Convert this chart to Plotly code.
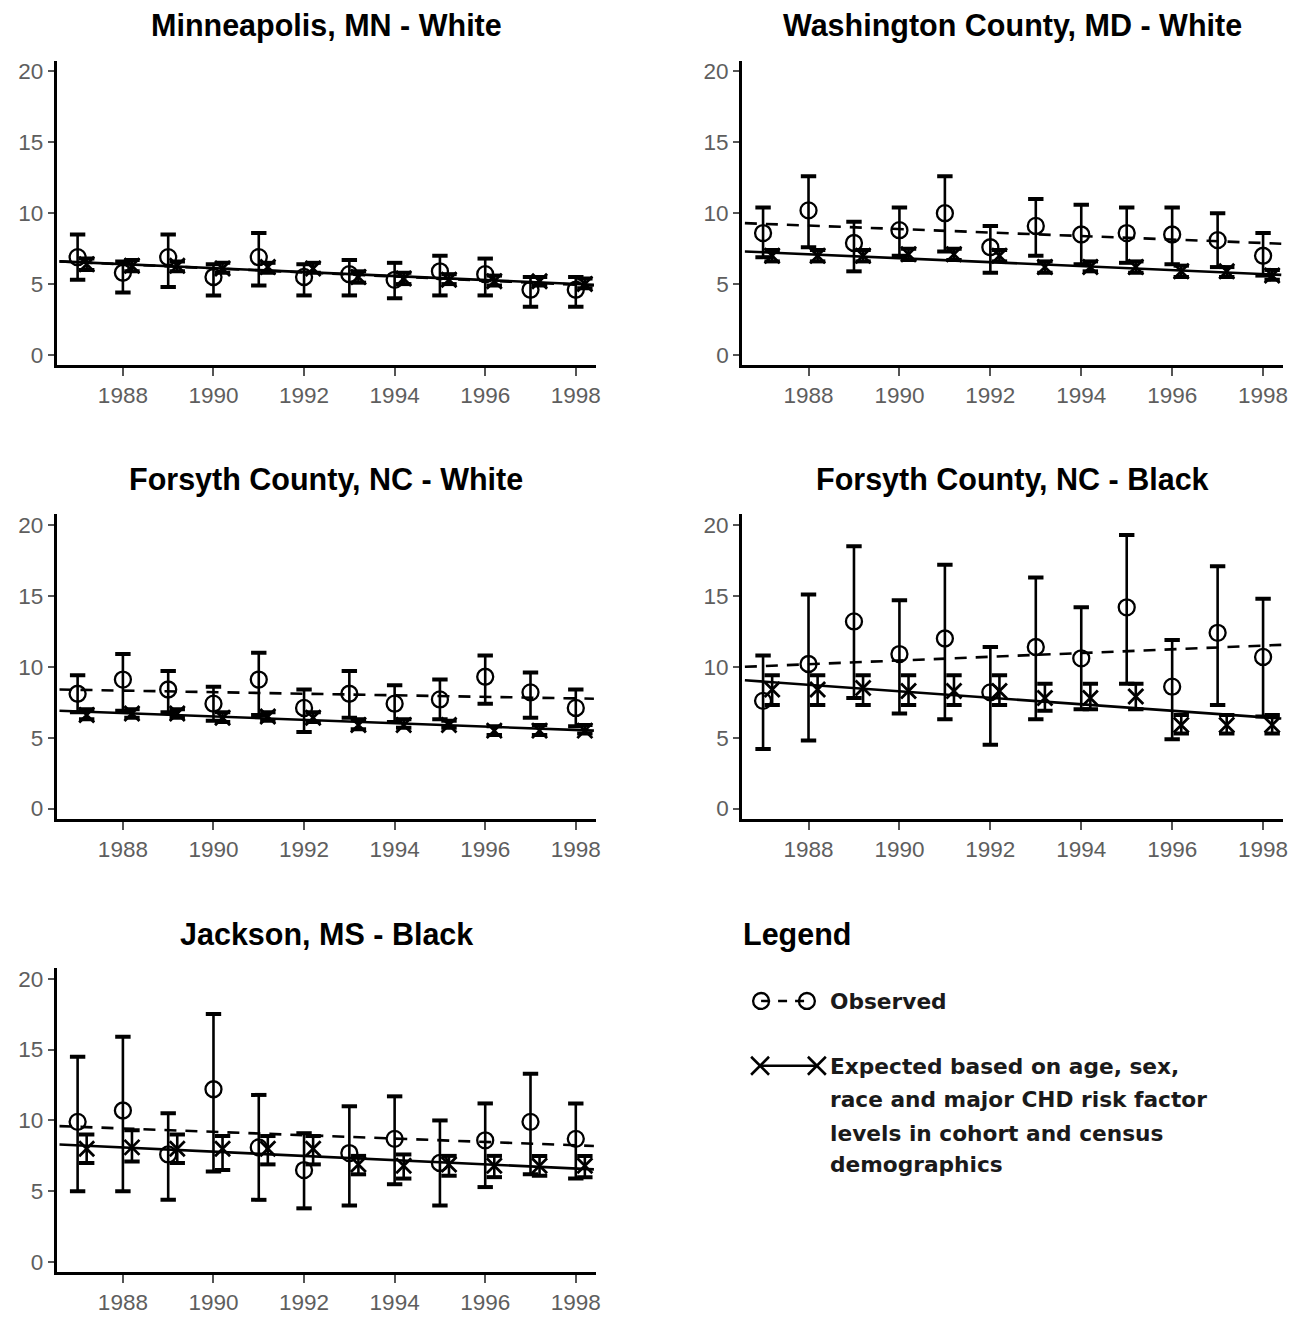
import numpy as np
import plotly.graph_objects as go

# ---------------------------------------------------------------------------
# Data: CHD rates by year, observed vs expected, five community/race groups
# ---------------------------------------------------------------------------
years = [1987, 1988, 1989, 1990, 1991, 1992, 1993, 1994, 1995, 1996, 1997, 1998]
tick_years = [1988, 1990, 1992, 1994, 1996, 1998]
tick_rates = [0, 5, 10, 15, 20]

titles = [
    "Minneapolis, MN - White",
    "Washington County, MD - White",
    "Forsyth County, NC - White",
    "Forsyth County, NC - Black",
    "Jackson, MS - Black",
]

# Minneapolis, MN - White
obs_mn = [6.9, 5.8, 6.9, 5.5, 6.9, 5.5, 5.7, 5.3, 5.9, 5.7, 4.6, 4.6]
obs_mn_hi = [8.5, 6.6, 8.5, 6.4, 8.6, 6.4, 6.7, 6.5, 7.0, 6.8, 5.5, 5.5]
obs_mn_lo = [5.3, 4.4, 4.8, 4.2, 4.9, 4.2, 4.2, 4.0, 4.2, 4.2, 3.4, 3.4]
exp_mn = [6.4, 6.3, 6.3, 6.1, 6.2, 6.1, 5.5, 5.4, 5.3, 5.2, 5.2, 5.0]
exp_mn_hi = [6.8, 6.7, 6.6, 6.5, 6.5, 6.5, 5.9, 5.8, 5.7, 5.6, 5.5, 5.4]
exp_mn_lo = [6.0, 5.9, 5.9, 5.8, 5.8, 5.8, 5.1, 5.0, 5.0, 4.9, 4.9, 4.7]

# Washington County, MD - White
obs_wa = [8.6, 10.2, 7.9, 8.8, 10.0, 7.6, 9.1, 8.5, 8.6, 8.5, 8.1, 7.0]
obs_wa_hi = [10.4, 12.6, 9.4, 10.4, 12.6, 9.1, 11.0, 10.6, 10.4, 10.4, 10.0, 8.6]
obs_wa_lo = [6.9, 7.6, 5.9, 7.0, 7.3, 5.8, 7.0, 6.4, 6.5, 6.4, 6.2, 5.6]
exp_wa = [7.0, 7.0, 7.0, 7.1, 7.1, 7.0, 6.2, 6.2, 6.2, 5.9, 5.9, 5.6]
exp_wa_hi = [7.4, 7.4, 7.4, 7.5, 7.5, 7.4, 6.6, 6.6, 6.6, 6.3, 6.2, 6.0]
exp_wa_lo = [6.6, 6.6, 6.6, 6.7, 6.7, 6.6, 5.8, 5.9, 5.8, 5.5, 5.5, 5.3]

# Forsyth County, NC - White
obs_fw = [8.1, 9.1, 8.4, 7.4, 9.1, 7.1, 8.1, 7.4, 7.7, 9.3, 8.2, 7.1]
obs_fw_hi = [9.4, 10.9, 9.7, 8.6, 11.0, 8.4, 9.7, 8.7, 9.1, 10.8, 9.6, 8.4]
obs_fw_lo = [6.8, 6.9, 6.8, 6.2, 6.6, 5.4, 6.4, 6.1, 6.3, 7.4, 6.4, 5.8]
exp_fw = [6.6, 6.7, 6.7, 6.4, 6.5, 6.4, 5.9, 5.9, 5.9, 5.5, 5.5, 5.5]
exp_fw_hi = [7.0, 7.0, 7.0, 6.8, 6.8, 6.8, 6.3, 6.3, 6.2, 5.8, 5.9, 5.9]
exp_fw_lo = [6.3, 6.4, 6.4, 6.1, 6.2, 6.1, 5.6, 5.7, 5.7, 5.2, 5.2, 5.3]

# Forsyth County, NC - Black
obs_fb = [7.6, 10.2, 13.2, 10.9, 12.0, 8.2, 11.4, 10.6, 14.2, 8.6, 12.4, 10.7]
obs_fb_hi = [10.8, 15.1, 18.5, 14.7, 17.2, 11.4, 16.3, 14.2, 19.3, 11.9, 17.1, 14.8]
obs_fb_lo = [4.2, 4.8, 7.8, 6.7, 6.3, 4.5, 6.3, 7.0, 8.8, 4.9, 7.3, 6.5]
exp_fb = [8.4, 8.4, 8.5, 8.3, 8.3, 8.3, 7.8, 7.8, 7.9, 5.9, 5.9, 5.9]
exp_fb_hi = [9.4, 9.4, 9.4, 9.4, 9.4, 9.4, 8.8, 8.8, 8.8, 6.6, 6.6, 6.6]
exp_fb_lo = [7.3, 7.3, 7.3, 7.3, 7.3, 7.3, 6.9, 7.0, 7.0, 5.3, 5.3, 5.3]

# Jackson, MS - Black
obs_ja = [9.9, 10.7, 7.6, 12.2, 8.1, 6.5, 7.7, 8.7, 7.0, 8.6, 9.9, 8.7]
obs_ja_hi = [14.5, 15.9, 10.5, 17.5, 11.8, 9.1, 11.0, 11.7, 10.0, 11.2, 13.3, 11.2]
obs_ja_lo = [5.0, 5.0, 4.4, 6.4, 4.4, 3.8, 4.0, 5.5, 4.0, 5.3, 6.2, 5.9]
exp_ja = [8.0, 8.1, 8.0, 8.0, 8.0, 8.0, 6.9, 6.8, 6.9, 6.8, 6.8, 6.8]
exp_ja_hi = [9.0, 9.3, 9.0, 8.9, 8.9, 8.9, 7.5, 7.6, 7.5, 7.5, 7.5, 7.5]
exp_ja_lo = [7.0, 7.1, 7.0, 6.5, 6.9, 6.9, 6.2, 5.9, 6.1, 6.0, 6.1, 6.0]

# Fitted linear trends: value at the start and end of the period
trend_years = [1986.6, 1998.4]
trend_obs_mn = [6.6, 4.9]
trend_exp_mn = [6.6, 4.95]
trend_obs_wa = [9.3, 7.85]
trend_exp_wa = [7.3, 5.65]
trend_obs_fw = [8.4, 7.75]
trend_exp_fw = [6.9, 5.5]
trend_obs_fb = [10.0, 11.55]
trend_exp_fb = [9.05, 6.35]
trend_obs_ja = [9.6, 8.2]
trend_exp_ja = [8.3, 6.55]

panels = [
    (obs_mn, obs_mn_hi, obs_mn_lo, exp_mn, exp_mn_hi, exp_mn_lo, trend_obs_mn, trend_exp_mn),
    (obs_wa, obs_wa_hi, obs_wa_lo, exp_wa, exp_wa_hi, exp_wa_lo, trend_obs_wa, trend_exp_wa),
    (obs_fw, obs_fw_hi, obs_fw_lo, exp_fw, exp_fw_hi, exp_fw_lo, trend_obs_fw, trend_exp_fw),
    (obs_fb, obs_fb_hi, obs_fb_lo, exp_fb, exp_fb_hi, exp_fb_lo, trend_obs_fb, trend_exp_fb),
    (obs_ja, obs_ja_hi, obs_ja_lo, exp_ja, exp_ja_hi, exp_ja_lo, trend_obs_ja, trend_exp_ja),
]

# ---------------------------------------------------------------------------
# Page geometry (pixels) -> paper coordinates
# ---------------------------------------------------------------------------
W, H = 1308, 1317


def px_x(p):
    return p / W


def px_y(p):
    return 1 - p / H


col_px = [(57, 598), (745, 1288)]
row_px = [(60, 365), (515, 820), (970, 1275)]
title_y = [25, 480, 936]
cells = [(0, 0), (0, 1), (1, 0), (1, 1), (2, 0)]

EXP_SHIFT = 0.2
TICK_FONT = dict(family="Liberation Sans, Arial, sans-serif", size=22.5, color="#5e5e5e")
CAP = dict(symbol="line-ew", size=11, color="black", line=dict(width=4, color="black"))

fig = go.Figure()
layout = dict(
    width=W, height=H,
    margin=dict(l=0, r=0, t=0, b=0),
    paper_bgcolor="white", plot_bgcolor="white",
    showlegend=False,
    annotations=[], shapes=[],
)

for i, (panel, (r, c)) in enumerate(zip(panels, cells)):
    obs, obs_hi, obs_lo, exp, exp_hi, exp_lo, tr_obs, tr_exp = [np.array(a, float) for a in panel]
    n = i + 1
    xa, ya = ("x", "y") if n == 1 else (f"x{n}", f"y{n}")
    xkey, ykey = ("xaxis", "yaxis") if n == 1 else (f"xaxis{n}", f"yaxis{n}")
    x_obs = np.array(years, float)
    x_exp = x_obs + EXP_SHIFT

    # trend of observed rates (dashed) and expected rates (solid)
    fig.add_trace(go.Scatter(
        x=trend_years, y=tr_obs, mode="lines", xaxis=xa, yaxis=ya,
        line=dict(color="black", width=2.6, dash="12px,9px"), hoverinfo="skip"))
    fig.add_trace(go.Scatter(
        x=trend_years, y=tr_exp, mode="lines", xaxis=xa, yaxis=ya,
        line=dict(color="black", width=2.6), hoverinfo="skip"))

    # expected rates with confidence limits
    fig.add_trace(go.Scatter(
        x=x_exp, y=exp, mode="markers", xaxis=xa, yaxis=ya,
        marker=dict(symbol="x-thin-open", size=15, color="black",
                    line=dict(width=2.8, color="black")),
        error_y=dict(type="data", symmetric=False, array=exp_hi - exp, arrayminus=exp - exp_lo,
                     color="black", thickness=2.6, width=0)))
    fig.add_trace(go.Scatter(
        x=np.concatenate([x_exp, x_exp]), y=np.concatenate([exp_hi, exp_lo]),
        mode="markers", xaxis=xa, yaxis=ya, marker=CAP, hoverinfo="skip"))

    # observed rates with confidence limits
    fig.add_trace(go.Scatter(
        x=x_obs, y=obs, mode="markers", xaxis=xa, yaxis=ya,
        marker=dict(symbol="circle-open", size=16, color="black",
                    line=dict(width=2.3, color="black")),
        error_y=dict(type="data", symmetric=False, array=obs_hi - obs, arrayminus=obs - obs_lo,
                     color="black", thickness=2.6, width=0)))
    fig.add_trace(go.Scatter(
        x=np.concatenate([x_obs, x_obs]), y=np.concatenate([obs_hi, obs_lo]),
        mode="markers", xaxis=xa, yaxis=ya, marker=CAP, hoverinfo="skip"))

    x0, x1 = col_px[c]
    y0, y1 = row_px[r]
    layout[xkey] = dict(
        domain=[px_x(x0), px_x(x1)], anchor=ya, range=[1986.54, 1998.44],
        showline=True, linecolor="black", linewidth=3, mirror=False,
        ticks="outside", ticklen=8, tickwidth=1.5, tickcolor="#555",
        tickvals=tick_years, tickfont=TICK_FONT,
        showgrid=False, zeroline=False, fixedrange=True)
    layout[ykey] = dict(
        domain=[px_y(y1), px_y(y0)], anchor=xa, range=[-0.70, 20.75],
        showline=True, linecolor="black", linewidth=3, mirror=False,
        ticks="outside", ticklen=6, tickwidth=1.5, tickcolor="#555",
        tickvals=tick_rates, tickfont=TICK_FONT,
        showgrid=False, zeroline=False, fixedrange=True)

    layout["annotations"].append(dict(
        text=f"<b>{titles[i]}</b>", x=px_x((x0 + x1) / 2), y=px_y(title_y[r]),
        xref="paper", yref="paper", xanchor="center", yanchor="middle", showarrow=False,
        font=dict(family="Liberation Sans, Arial, sans-serif", size=30.5, color="black")))

# ---------------------------------------------------------------------------
# Hand-drawn legend in the empty lower-right cell
# ---------------------------------------------------------------------------
ann = layout["annotations"]
shp = layout["shapes"]
LEG_FONT = dict(family="DejaVu Sans, Verdana, sans-serif", size=21.7, color="#1a1a1a")

ann.append(dict(text="<b>Legend</b>", x=px_x(744), y=px_y(936), xref="paper", yref="paper",
                xanchor="left", yanchor="middle", showarrow=False,
                font=dict(family="Liberation Sans, Arial, sans-serif", size=30.5, color="black")))

# observed key: dashed line between two open circles
ky = 1003
shp.append(dict(type="line", xref="paper", yref="paper",
                x0=px_x(764), x1=px_x(810), y0=px_y(ky), y1=px_y(ky),
                line=dict(color="black", width=2.4, dash="9px,8px")))
for cx in (764, 810):
    shp.append(dict(type="circle", xref="paper", yref="paper",
                    x0=px_x(cx - 8), x1=px_x(cx + 8), y0=px_y(ky + 8), y1=px_y(ky - 8),
                    line=dict(color="black", width=2.3)))
ann.append(dict(text="<b>Observed</b>", x=px_x(831), y=px_y(1004), xref="paper", yref="paper",
                xanchor="left", yanchor="middle", showarrow=False, font=LEG_FONT))

# expected key: solid line between two crosses
ky = 1068
shp.append(dict(type="line", xref="paper", yref="paper",
                x0=px_x(763), x1=px_x(820), y0=px_y(ky), y1=px_y(ky),
                line=dict(color="black", width=2.4)))
for cx in (763, 820):
    for dy in (-1, 1):
        shp.append(dict(type="line", xref="paper", yref="paper",
                        x0=px_x(cx - 9), x1=px_x(cx + 9),
                        y0=px_y(ky - 9 * dy), y1=px_y(ky + 9 * dy),
                        line=dict(color="black", width=2.6)))

expected_lines = [
    "Expected based on age, sex,",
    "race and major CHD risk factor",
    "levels in cohort and census",
    "demographics",
]
for txt, ly in zip(expected_lines, [1069, 1102, 1136, 1167]):
    ann.append(dict(text=f"<b>{txt}</b>", x=px_x(831), y=px_y(ly), xref="paper", yref="paper",
                    xanchor="left", yanchor="middle", showarrow=False, font=LEG_FONT))

fig.update_layout(**layout)
fig.write_html("out.html")
